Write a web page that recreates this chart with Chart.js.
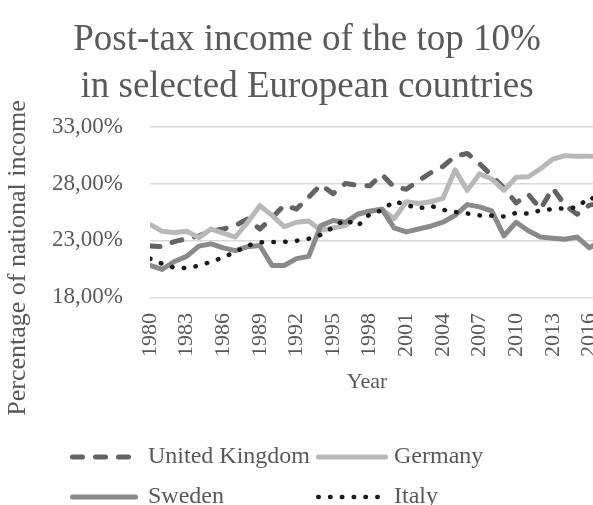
<!DOCTYPE html>
<html>
<head>
<meta charset="utf-8">
<title>Post-tax income of the top 10%</title>
<script src="https://cdn.jsdelivr.net/npm/chart.js@4.4.0/dist/chart.umd.min.js"></script>
<style>
    html, body { margin: 0; padding: 0; background: #fff; overflow: hidden; }
    #wrap { width: 593px; height: 505px; overflow: hidden; }
</style>
</head>
<body>
<div id="wrap">
    <canvas id="topTen" width="620" height="505"></canvas>
</div>
<script>
// Share of national income going to the top 10% after taxes (percent)
var years = [1980, 1981, 1982, 1983, 1984, 1985, 1986, 1987, 1988, 1989,
             1990, 1991, 1992, 1993, 1994, 1995, 1996, 1997, 1998, 1999,
             2000, 2001, 2002, 2003, 2004, 2005, 2006, 2007, 2008, 2009,
             2010, 2011, 2012, 2013, 2014, 2015, 2016, 2017];

var unitedKingdom = [22.5, 22.45, 22.9, 23.15, 23.4, 23.8, 24.0, 24.3, 24.9, 24.0,
                     25.0, 26.1, 25.75, 26.8, 27.9, 27.1, 28.0, 27.85, 27.8, 28.8,
                     27.7, 27.5, 28.25, 28.95, 29.5, 30.4, 30.65, 29.75, 28.7, 27.6,
                     26.3, 27.05, 25.75, 27.6, 26.1, 25.3, 26.1, 26.3];

var germany = [24.4, 23.8, 23.7, 23.8, 23.25, 24.0, 23.65, 23.3, 24.6, 26.05,
               25.2, 24.2, 24.6, 24.7, 23.9, 24.1, 24.3, 25.3, 25.6, 25.75,
               24.9, 26.4, 26.25, 26.4, 26.7, 29.2, 27.4, 28.85, 28.4, 27.4,
               28.55, 28.6, 29.3, 30.15, 30.45, 30.4, 30.4, 30.35];

var sweden = [20.8, 20.45, 21.15, 21.6, 22.5, 22.7, 22.35, 22.1, 22.45, 22.55,
              20.8, 20.8, 21.4, 21.6, 24.3, 24.75, 24.6, 25.3, 25.55, 25.75,
              24.1, 23.75, 24.0, 24.25, 24.6, 25.2, 26.15, 25.95, 25.6, 23.4,
              24.6, 23.85, 23.3, 23.2, 23.1, 23.3, 22.35, 22.9];

var italy = [21.4, 20.95, 20.6, 20.58, 20.77, 21.13, 21.5, 22.0, 22.55, 22.84,
             22.86, 22.87, 22.97, 23.15, 23.5, 24.15, 24.85, 24.25, 25.3, 25.65,
             26.45, 26.13, 25.8, 26.05, 25.7, 25.5, 25.37, 25.2, 25.18, 25.1,
             25.42, 25.35, 25.65, 25.75, 25.82, 25.9, 26.8, 26.4];

var yearTicks = [1980, 1983, 1986, 1989, 1992, 1995, 1998, 2001, 2004, 2007, 2010, 2013, 2016];
var percentTicks = [18, 23, 28, 33];

var textColor = '#595959';
var serif = "'Liberation Serif', 'Times New Roman', serif";

function toPoints(values) {
    return years.map(function(y, i) { return { x: y, y: values[i] }; });
}

// Legend drawn as a 2x2 grid under the x axis
var keyLayout = [
    { x1: 70,  x2: 133, tx: 148, y: 457 },
    { x1: 316, x2: 388, tx: 394, y: 457 },
    { x1: 70,  x2: 138, tx: 148, y: 497 },
    { x1: 316, x2: 383, tx: 394, y: 497 }
];

var chartLabels = {
    id: 'chartLabels',
    afterDraw: function(chart) {
        var ctx = chart.ctx;

        // axis titles
        ctx.save();
        ctx.fillStyle = textColor;
        ctx.textAlign = 'center';
        ctx.textBaseline = 'middle';
        ctx.font = '22px ' + serif;
        ctx.fillText('Year', 367, 382);
        ctx.translate(18, 258);
        ctx.rotate(-Math.PI / 2);
        ctx.font = '26px ' + serif;
        ctx.fillText('Percentage of national income', 0, 0);
        ctx.restore();

        chart.data.datasets.forEach(function(ds, i) {
            var k = keyLayout[i];
            ctx.save();
            ctx.strokeStyle = ds.borderColor;
            ctx.lineWidth = ds.borderWidth;
            ctx.lineCap = 'round';
            ctx.setLineDash(ds.borderDash || []);
            ctx.beginPath();
            ctx.moveTo(k.x1 + ds.borderWidth / 2, k.y);
            ctx.lineTo(k.x2 - ds.borderWidth / 2, k.y);
            ctx.stroke();
            ctx.setLineDash([]);
            ctx.fillStyle = textColor;
            ctx.font = '24px ' + serif;
            ctx.textBaseline = 'middle';
            ctx.textAlign = 'left';
            ctx.fillText(ds.label, k.tx, k.y);
            ctx.restore();
        });
    }
};

new Chart(document.getElementById('topTen').getContext('2d'), {
    type: 'line',
    data: {
        datasets: [{
            label: 'United Kingdom',
            data: toPoints(unitedKingdom),
            borderColor: '#636363',
            borderWidth: 5,
            borderDash: [10, 13],
            borderCapStyle: 'round',
            order: 4
        }, {
            label: 'Germany',
            data: toPoints(germany),
            borderColor: '#b8b8b8',
            borderWidth: 5,
            borderCapStyle: 'round',
            order: 3
        }, {
            label: 'Sweden',
            data: toPoints(sweden),
            borderColor: '#8a8a8a',
            borderWidth: 5,
            borderCapStyle: 'round',
            order: 2
        }, {
            label: 'Italy',
            data: toPoints(italy),
            borderColor: '#1a1a1a',
            borderWidth: 4.5,
            borderDash: [0.5, 11.3],
            borderCapStyle: 'round',
            order: 1
        }]
    },
    options: {
        responsive: false,
        animation: false,
        devicePixelRatio: 1,
        layout: { padding: { left: 0, right: 6, top: 0, bottom: 132.3 } },
        elements: {
            point: { radius: 0, hoverRadius: 0 },
            line: { tension: 0, borderJoinStyle: 'round' }
        },
        plugins: {
            legend: { display: false },
            tooltip: { enabled: false },
            title: {
                display: true,
                text: ['Post-tax income of the top 10%', 'in selected European countries'],
                color: textColor,
                font: { family: serif, size: 37, weight: 'normal', lineHeight: 1.27 },
                padding: { top: 16.5, bottom: 16.2 }
            }
        },
        scales: {
            x: {
                type: 'linear',
                min: 1980,
                max: 2018.02,
                grid: { display: false, drawTicks: false },
                border: { display: false },
                afterBuildTicks: function(scale) {
                    scale.ticks = yearTicks.map(function(v) { return { value: v }; });
                },
                afterFit: function(scale) {
                    scale.paddingLeft = 0;
                    scale.paddingRight = 0;
                },
                ticks: {
                    autoSkip: false,
                    minRotation: 90,
                    maxRotation: 90,
                    padding: 15.7,
                    color: textColor,
                    font: { family: serif, size: 22 },
                    callback: function(value) { return String(value); }
                }
            },
            y: {
                min: 18,
                max: 33,
                afterBuildTicks: function(scale) {
                    scale.ticks = percentTicks.map(function(v) { return { value: v }; });
                },
                afterFit: function(scale) { scale.width = 150; },
                grid: { color: '#d9d9d9', lineWidth: 1.5, drawTicks: false },
                border: { display: false },
                ticks: {
                    padding: 27,
                    color: textColor,
                    font: { family: serif, size: 23 },
                    callback: function(value) {
                        return value.toFixed(2).replace('.', ',') + '%';
                    }
                }
            }
        }
    },
    plugins: [chartLabels]
});
</script>
</body>
</html>
